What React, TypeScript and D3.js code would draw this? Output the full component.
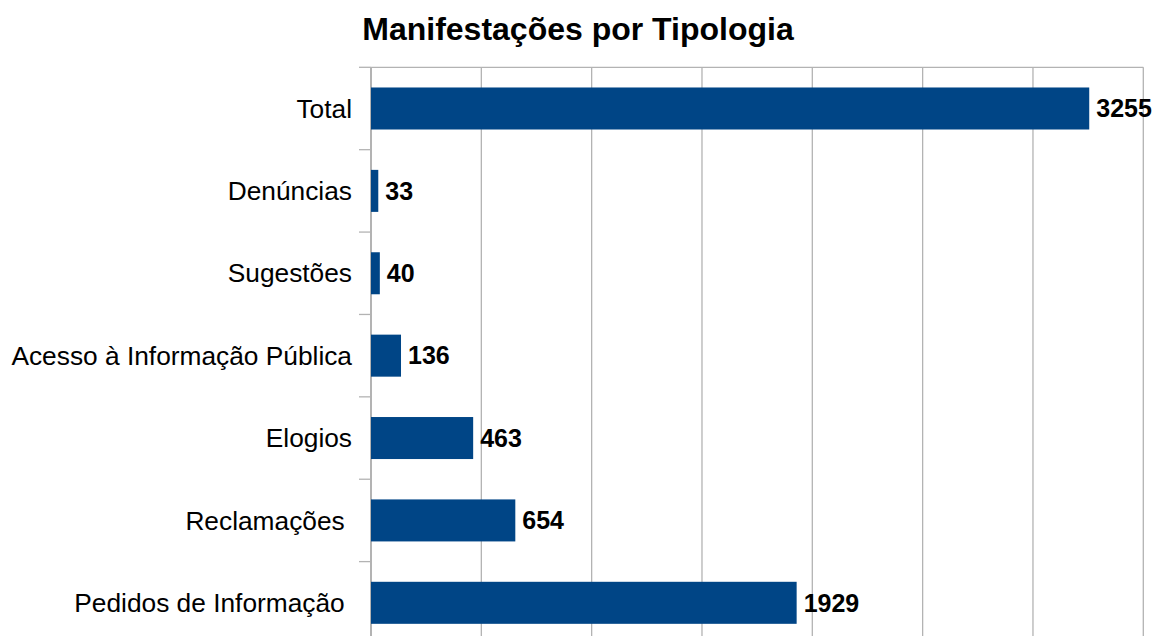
import * as d3 from 'd3';

const categories = [
  "Total",
  "Denúncias",
  "Sugestões",
  "Acesso à Informação Pública",
  "Elogios",
  "Reclamações ",
  "Pedidos de Informação ",
];
const values = [3255, 33, 40, 136, 463, 654, 1929];
const xTicks = [0, 500, 1000, 1500, 2000, 2500, 3000, 3500];

const width = 1156;
const height = 636;
const margin = { top: 67.3, right: 12.7, bottom: -8, left: 371 };
const font = "'Liberation Sans', Arial, sans-serif";

export default function App() {
  const x = d3
    .scaleLinear()
    .domain([0, 3500])
    .range([margin.left, width - margin.right]);
  const y = d3
    .scaleBand()
    .domain(categories)
    .range([margin.top, height - margin.bottom])
    .paddingInner(0.49)
    .paddingOuter(0.245);

  const step = y.step();
  const bounds = d3.range(categories.length + 1).map((i) => margin.top + i * step);
  const bottom = height - margin.bottom;

  return (
    <svg
      width={width}
      height={height}
      style={{ position: 'absolute', left: 0, top: 0, background: '#fff' }}
    >
      <text
        x={width / 2}
        y={40}
        textAnchor="middle"
        fontFamily={font}
        fontWeight="bold"
        fontSize={32}
      >
        Manifestações por Tipologia
      </text>

      {xTicks.map((t) => (
        <line
          key={t}
          x1={x(t)}
          x2={x(t)}
          y1={margin.top}
          y2={bottom + 12}
          stroke="#b3b3b3"
          strokeWidth={1.3}
        />
      ))}
      <line x1={x(0)} x2={x(3500)} y1={margin.top} y2={margin.top} stroke="#b3b3b3" strokeWidth={1.3} />
      <line x1={x(0)} x2={x(3500)} y1={bottom} y2={bottom} stroke="#b3b3b3" strokeWidth={1.3} />

      {bounds.map((b, i) => (
        <line
          key={i}
          x1={x(0) - 12}
          x2={x(0)}
          y1={b}
          y2={b}
          stroke="#b3b3b3"
          strokeWidth={1.3}
        />
      ))}
      <line x1={x(0)} x2={x(0)} y1={margin.top} y2={bottom + 12} stroke="#b3b3b3" strokeWidth={2} />

      {categories.map((c, i) => (
        <g key={c}>
          <rect
            x={x(0)}
            y={y(c)}
            width={x(values[i]) - x(0)}
            height={y.bandwidth()}
            fill="#004586"
          />
          <text
            x={x(0) - 19}
            y={(y(c) as number) + y.bandwidth() / 2}
            dy="0.35em"
            textAnchor="end"
            fontFamily={font}
            fontSize={26.3}
            style={{ whiteSpace: 'pre' }}
          >
            {c}
          </text>
          <text
            x={x(values[i]) + 7}
            y={(y(c) as number) + y.bandwidth() / 2}
            dy="0.35em"
            fontFamily={font}
            fontWeight="bold"
            fontSize={25}
          >
            {values[i]}
          </text>
        </g>
      ))}
    </svg>
  );
}
